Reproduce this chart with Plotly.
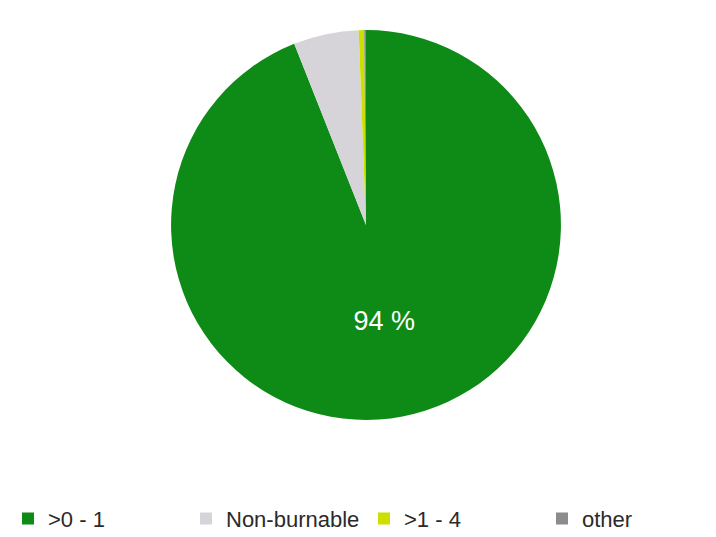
import plotly.graph_objects as go

labels = [">0 - 1", "Non-burnable", ">1 - 4", "other"]
values = [94.0, 5.4, 0.45, 0.15]
colors = ["#0e8a16", "#d6d4d8", "#cce000", "#8c8c8c"]
label_templates = ["%{value:.0f} %", "", "", ""]

fig = go.Figure(go.Pie(
    labels=labels,
    values=values,
    sort=False,
    direction="clockwise",
    rotation=0,
    marker=dict(colors=colors, line=dict(width=0)),
    texttemplate=label_templates,
    textposition="inside",
    insidetextorientation="horizontal",
    textfont=dict(color="white", size=27, family="Liberation Sans"),
    domain=dict(x=[0, 1], y=[0.233, 0.959]),
    hoverinfo="label+percent",
))

fig.update_layout(
    width=716, height=537,
    margin=dict(l=0, r=0, t=0, b=0),
    paper_bgcolor="white",
    plot_bgcolor="white",
    showlegend=True,
    legend=dict(
        orientation="h",
        x=0.0, xanchor="left",
        y=0.01, yanchor="bottom",
        font=dict(size=22, color="#2a2a2a", family="Liberation Sans"),
        itemsizing="constant",
        traceorder="normal",
        entrywidth=133,
        entrywidthmode="pixels",
    ),
)

fig.write_html("out.html")
